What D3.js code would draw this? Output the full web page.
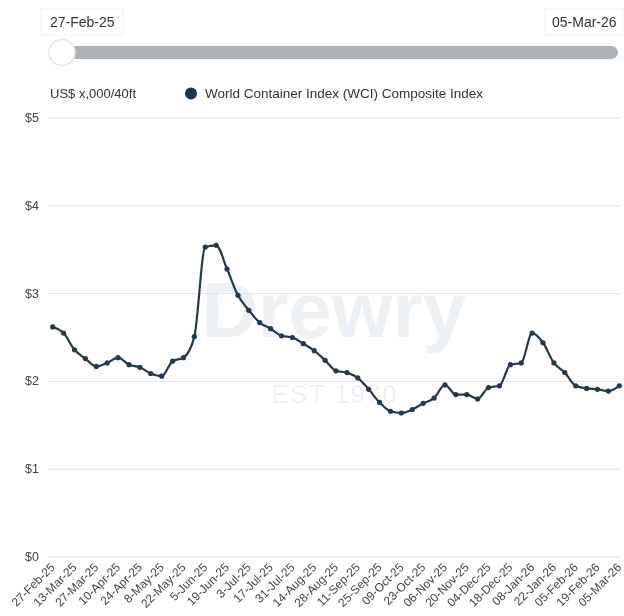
<!DOCTYPE html>
<head>
  <meta charset="utf-8">
  <script src="https://d3js.org/d3.v7.min.js"></script>
  <style>
    body {
      margin:0;position:fixed;top:0;right:0;bottom:0;left:0;
      font-family: "Liberation Sans", Arial, sans-serif;
      background-color: white;
    }
    .ylabel { font-size: 12.5px; fill: #444; }
    .xlabel { font-size: 12px; fill: #444; }
    .grid { stroke: #e2e2e2; stroke-width: 1; }
  </style>
</head>

<body>
  <script>
    // weekly WCI composite, US$ thousand per 40ft
    var dates = ["27-Feb-25","6-Mar-25","13-Mar-25","20-Mar-25","27-Mar-25","3-Apr-25","10-Apr-25","17-Apr-25",
      "24-Apr-25","1-May-25","8-May-25","15-May-25","22-May-25","29-May-25","5-Jun-25","12-Jun-25","19-Jun-25",
      "26-Jun-25","3-Jul-25","10-Jul-25","17-Jul-25","24-Jul-25","31-Jul-25","7-Aug-25","14-Aug-25","21-Aug-25",
      "28-Aug-25","4-Sep-25","11-Sep-25","18-Sep-25","25-Sep-25","02-Oct-25","09-Oct-25","16-Oct-25","23-Oct-25",
      "30-Oct-25","06-Nov-25","13-Nov-25","20-Nov-25","27-Nov-25","04-Dec-25","11-Dec-25","18-Dec-25","01-Jan-26",
      "08-Jan-26","15-Jan-26","22-Jan-26","29-Jan-26","05-Feb-26","12-Feb-26","19-Feb-26","26-Feb-26","05-Mar-26"];

    var wci = [2.62,2.55,2.36,2.26,2.17,2.21,2.27,2.19,2.16,2.09,2.06,2.23,2.27,2.51,3.53,3.55,3.28,2.98,2.81,2.67,
      2.60,2.52,2.50,2.43,2.35,2.24,2.12,2.10,2.04,1.91,1.76,1.66,1.64,1.68,1.75,1.81,1.96,1.85,1.85,1.80,1.93,1.95,
      2.19,2.21,2.55,2.44,2.21,2.10,1.95,1.92,1.91,1.89,1.95];

    var yTicks = [0, 1, 2, 3, 4, 5];
    var rangeLabels = ["27-Feb-25", "05-Mar-26"];
    var seriesName = "World Container Index (WCI) Composite Index";
    var unitLabel = "US$ x,000/40ft";

    var navy = "#243950";

    var svg = d3.select("body").append("svg")
      .attr("width", 624)
      .attr("height", 616)

    var x = d3.scalePoint()
      .domain(dates)
      .range([52.7, 619.3])

    var y = d3.scaleLinear()
      .domain([0, 5])
      .range([557, 118])

    // range slider at the top
    var slider = svg.append("g")

    slider.append("rect")
      .attr("x", 41).attr("y", 9)
      .attr("width", 82).attr("height", 26)
      .style("fill", "white").style("stroke", "#f0f0f0")
    slider.append("text")
      .attr("x", 50).attr("y", 27)
      .style("font-size", "14px").style("fill", "#333")
      .text(rangeLabels[0])

    slider.append("rect")
      .attr("x", 545).attr("y", 9)
      .attr("width", 79).attr("height", 26)
      .style("fill", "white").style("stroke", "#f0f0f0")
    slider.append("text")
      .attr("x", 552).attr("y", 27)
      .style("font-size", "14px").style("fill", "#333")
      .text(rangeLabels[1])

    slider.append("rect")
      .attr("x", 52).attr("y", 46)
      .attr("width", 566).attr("height", 13)
      .attr("rx", 6.5)
      .style("fill", "#adb3b9")

    slider.append("circle")
      .attr("cx", 62).attr("cy", 52.5)
      .attr("r", 13)
      .style("fill", "white")
      .style("stroke", "#e6e6e6")
      .style("stroke-width", 1.5)

    // unit + legend
    svg.append("text")
      .attr("x", 50).attr("y", 98)
      .style("font-size", "13px").style("fill", "#333")
      .text(unitLabel)

    svg.append("circle")
      .attr("cx", 191).attr("cy", 93.5)
      .attr("r", 6)
      .style("fill", "#1d3652")

    svg.append("text")
      .attr("x", 205).attr("y", 97.5)
      .style("font-size", "13.5px").style("fill", "#333")
      .text(seriesName)

    // watermark
    svg.append("text")
      .attr("x", 334).attr("y", 337)
      .attr("text-anchor", "middle")
      .style("font-size", "78px")
      .style("font-weight", "bold")
      .style("fill", "#eef1f4")
      .text("Drewry")

    svg.append("text")
      .attr("x", 335).attr("y", 403)
      .attr("text-anchor", "middle")
      .style("font-size", "25px")
      .style("letter-spacing", "2px")
      .style("fill", "#eef0f2")
      .text("EST 1970")

    // gridlines and y labels
    svg.selectAll(".grid").data(yTicks).enter()
      .append("line")
      .attr("class", "grid")
      .attr("x1", 48)
      .attr("x2", 620)
      .attr("y1", function(d) {return y(d)})
      .attr("y2", function(d) {return y(d)})

    svg.selectAll(".ylabel").data(yTicks).enter()
      .append("text")
      .attr("class", "ylabel")
      .attr("x", 39)
      .attr("y", function(d) {return y(d) + 4})
      .attr("text-anchor", "end")
      .text(function(d) {return "$" + d})

    // x labels, every second week
    svg.selectAll(".xlabel").data(dates.filter(function(d, i) {return i % 2 === 0})).enter()
      .append("text")
      .attr("class", "xlabel")
      .attr("text-anchor", "end")
      .attr("transform", function(d) {return "translate(" + (x(d) + 3) + ",568) rotate(-45)"})
      .text(function(d) {return d})

    // series
    var line = d3.line()
      .x(function(d, i) {return x(dates[i])})
      .y(function(d) {return y(d)})
      .curve(d3.curveMonotoneX)

    svg.append("path")
      .datum(wci)
      .attr("d", line)
      .style("fill", "none")
      .style("stroke", navy)
      .style("stroke-width", 2.2)

    svg.selectAll(".mark").data(wci).enter()
      .append("circle")
      .attr("class", "mark")
      .attr("cx", function(d, i) {return x(dates[i])})
      .attr("cy", function(d) {return y(d)})
      .attr("r", 2.6)
      .style("fill", navy)
  </script>
</body>
